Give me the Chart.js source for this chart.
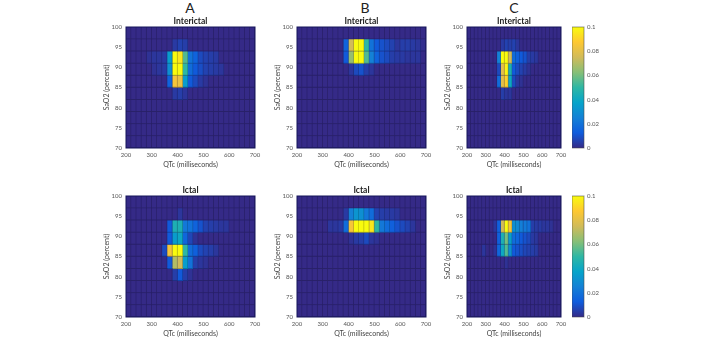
<!DOCTYPE html>
<html>
<head>
<meta charset="utf-8">
<script src="https://cdn.jsdelivr.net/npm/chart.js@4/dist/chart.umd.min.js"></script>
<style>
  html, body { margin: 0; padding: 0; background: #fff; }
  body { position: relative; width: 715px; height: 350px; overflow: hidden; font-family: Lato, sans-serif; }
  canvas { position: absolute; }
  .letter { position: absolute; top: 0; font-size: 14px; line-height: 16px; color: #222; transform: translateX(-50%); }
</style>
</head>
<body>
<div class="letter" style="left:190px">A</div>
<div class="letter" style="left:365px">B</div>
<div class="letter" style="left:514px">C</div>
<script>
// Bin centres of the QTc axis (20 ms bins) and SaO2 bins (3 percent), top row first
const qtcBins = [210,230,250,270,290,310,330,350,370,390,410,430,450,470,490,510,530,550,570,590,610,630,650,670,690];
const sao2Bins = [[97,100],[94,97],[91,94],[88,91],[85,88],[82,85],[79,82],[76,79],[73,76],[70,73]];
const xTicksStep = 100;
const yTicksStep = 5;
const colorbarRange = [0, 0.1];

const emptyRow = [0,0,0,0,0,0,0,0,0,0,0,0,0,0,0,0,0,0,0,0,0,0,0,0,0];

const interictalA = [
  emptyRow,
  [0,0,0,0,0,0,0,0,0,.004,.006,.005,0,0,0,0,0,0,0,0,0,0,0,0,0],
  [0,0,0,0,.002,.003,.003,.004,.035,.1,.095,.055,.02,.015,.008,.006,.005,.004,0,0,0,0,0,0,0],
  [0,0,0,0,0,.002,.003,.004,.03,.1,.1,.05,.018,.012,.009,.006,.005,.004,.003,0,0,0,0,0,0],
  [0,0,0,0,0,0,0,0,.015,.085,.082,.035,.012,.008,.004,.002,0,0,0,0,0,0,0,0,0],
  [0,0,0,0,0,0,0,0,0,.004,.005,.003,0,0,0,0,0,0,0,0,0,0,0,0,0],
  emptyRow, emptyRow, emptyRow, emptyRow
];
const interictalB = [
  emptyRow,
  [0,0,0,0,0,0,0,0,0,.015,.075,.1,.1,.05,.02,.012,.01,.008,.006,.003,.005,.005,.004,.003,.001],
  [0,0,0,0,0,0,0,0,0,.012,.065,.1,.1,.055,.025,.015,.01,.008,.005,.004,.004,.003,.003,.003,0],
  [0,0,0,0,0,0,0,0,0,0,.003,.008,.01,.005,.003,0,0,0,0,0,0,0,0,0,0],
  emptyRow, emptyRow, emptyRow, emptyRow, emptyRow, emptyRow
];
const interictalC = [
  emptyRow,
  [0,0,0,0,0,0,0,0,0,.004,.006,.005,.006,.003,0,0,0,0,0,0,0,0,0,0,0],
  [0,0,0,0,0,0,0,0,.025,.1,.1,.075,.018,.014,.012,.01,.005,.004,.003,0,0,0,0,0,0],
  [0,0,0,0,0,0,0,0,.008,.08,.098,.045,.012,.008,.006,.004,.002,0,0,0,0,0,0,0,0],
  [0,0,0,0,0,0,0,0,.018,.08,.09,.04,.008,.003,.002,0,0,0,0,0,0,0,0,0,0],
  [0,0,0,0,0,0,0,0,0,.005,.003,.003,0,0,0,0,0,0,0,0,0,0,0,0,0],
  emptyRow, emptyRow, emptyRow, emptyRow
];
const ictalA = [
  emptyRow,
  [0,0,0,0,0,0,0,0,0,0,.003,0,0,0,0,0,0,0,0,0,0,0,0,0,0],
  [0,0,0,0,0,0,0,0,.012,.045,.045,.022,.02,.015,.01,.006,.005,.004,.003,.003,0,0,0,0,0],
  [0,0,0,0,0,0,0,0,.012,.035,.04,.016,.007,.002,0,0,0,0,0,0,0,0,0,0,0],
  [0,0,0,0,0,0,0,.008,.085,.1,.1,.05,.018,.014,.008,.006,.005,.003,0,0,0,0,0,0,0],
  [0,0,0,0,0,0,0,0,.012,.07,.075,.035,.02,.005,.003,.002,0,0,0,0,0,0,0,0,0],
  [0,0,0,0,0,0,0,0,0,.005,.012,.005,.002,0,0,0,0,0,0,0,0,0,0,0,0],
  emptyRow, emptyRow, emptyRow
];
const ictalB = [
  emptyRow,
  [0,0,0,0,0,0,0,0,0,.004,.025,.032,.03,.022,.018,.006,.005,.004,.004,.003,0,0,0,0,0],
  [0,0,0,0,0,0,.003,.003,.004,.018,.085,.1,.1,.1,.095,.05,.022,.018,.014,.01,.008,.006,.003,0,0],
  [0,0,0,0,0,0,0,0,0,0,.002,.004,.005,.008,.003,.002,0,0,0,0,0,0,0,0,0],
  emptyRow, emptyRow, emptyRow, emptyRow, emptyRow, emptyRow
];
const ictalC = [
  emptyRow,
  emptyRow,
  [0,0,0,0,0,0,0,.003,.014,.075,.1,.085,.03,.028,.024,.022,.02,.005,.004,.004,.003,.003,.002,0,0],
  [0,0,0,0,0,0,0,0,.014,.045,.06,.035,.018,.016,.012,.01,.008,.004,.003,0,0,0,0,0,0],
  [0,0,0,0,.003,0,0,.002,.016,.04,.055,.03,.012,.01,.009,.007,.006,.005,.004,0,0,0,0,0,0],
  [0,0,0,0,0,0,0,0,0,0,.002,0,0,0,0,0,0,0,0,0,0,0,0,0,0],
  emptyRow, emptyRow, emptyRow, emptyRow
];

// Parula colour stops, sampled off the colour bar
const parula = [[53,42,135],[15,92,221],[20,129,214],[6,164,202],[46,183,164],[135,191,119],[209,187,89],[254,200,50],[249,251,14]];

function rgbFor(value) {
  const t = Math.min(value / colorbarRange[1], 1) * (parula.length - 1);
  const i = Math.min(Math.floor(t), parula.length - 2);
  const f = t - i;
  return parula[i].map((v, k) => Math.round(v + (parula[i + 1][k] - v) * f));
}
const colorFor = value => `rgb(${rgbFor(value).join(',')})`;
// cell edge: same hue, a bit darker
const edgeFor = value => `rgb(${rgbFor(value).map(v => Math.round(v * 0.78)).join(',')})`;

const tickFont = { family: 'Lato', size: 6 };
const labelFont = { family: 'Lato', size: 7, lineHeight: 1.2 };
const tickColor = '#555';
const labelColor = '#444';

// Dark outline round the plot box, and a dark backing so no white shows between cells
function frame(color, backing) {
  return {
    id: 'frame',
    beforeDatasetsDraw(chart) {
      if (!backing) return;
      const { ctx, chartArea: a } = chart;
      ctx.save();
      ctx.fillStyle = backing;
      ctx.fillRect(a.left, a.top, a.right - a.left, a.bottom - a.top);
      ctx.restore();
    },
    afterDatasetsDraw(chart) {
      const { ctx, chartArea: a } = chart;
      ctx.save();
      ctx.strokeStyle = color;
      ctx.lineWidth = 1;
      ctx.strokeRect(a.left, a.top, a.right - a.left, a.bottom - a.top);
      ctx.restore();
    }
  };
}

function addCanvas(left, top, width, height) {
  const canvas = document.createElement('canvas');
  canvas.style.left = left + 'px';
  canvas.style.top = top + 'px';
  canvas.style.width = width + 'px';
  canvas.style.height = height + 'px';
  canvas.width = width;
  canvas.height = height;
  document.body.appendChild(canvas);
  return canvas;
}

function heatmap(rows, title, box) {
  const yAxisWidth = 31;
  const xAxisHeight = 24;
  const rightPad = 10;
  const canvas = addCanvas(box.left - yAxisWidth, box.top, box.width + yAxisWidth + rightPad, box.titleH + box.height + xAxisHeight);

  const datasets = sao2Bins.map((bin, r) => ({
    data: qtcBins.map(x => ({ x: x, y: bin })),
    backgroundColor: rows[r].map(colorFor),
    borderColor: rows[r].map(edgeFor),
    borderWidth: { top: 0, left: 0, right: 1, bottom: 1 },
    borderSkipped: false,
    barPercentage: 1,
    categoryPercentage: 1,
    grouped: false
  }));

  new Chart(canvas, {
    type: 'bar',
    data: { datasets: datasets },
    plugins: [frame('#14145a', 'rgb(40,32,110)')],
    options: {
      responsive: false,
      animation: false,
      layout: { padding: { right: rightPad } },
      plugins: {
        legend: { display: false },
        tooltip: { enabled: false },
        title: {
          display: true,
          text: title,
          fullSize: false,
          color: '#222',
          font: { family: 'Lato', size: 8.5, weight: 'bold', lineHeight: 1 },
          padding: { top: box.titleH - 9.5, bottom: 1 }
        }
      },
      scales: {
        x: {
          type: 'linear',
          min: 200,
          max: 700,
          offset: false,
          grid: { display: false, offset: false, drawTicks: false, tickLength: 0 },
          border: { display: false },
          ticks: { stepSize: xTicksStep, font: tickFont, color: tickColor, padding: 3, maxRotation: 0 },
          title: { display: true, text: 'QTc (milliseconds)', font: labelFont, color: labelColor, padding: { top: 2, bottom: 3.5 } },
          afterFit: s => { s.height = xAxisHeight; }
        },
        y: {
          min: 70,
          max: 100,
          grid: { display: false, drawTicks: false, tickLength: 0 },
          border: { display: false },
          ticks: { stepSize: yTicksStep, font: tickFont, color: tickColor, padding: 4 },
          title: { display: true, text: 'SaO2 (percent)', font: labelFont, color: labelColor, padding: { top: 8, bottom: 2 } },
          afterFit: s => { s.width = yAxisWidth; }
        }
      }
    }
  });
}

function colorbar(box) {
  const tickSpace = 24;
  const canvas = addCanvas(box.left, box.top, box.width + tickSpace, box.titleH + box.height + 10);
  new Chart(canvas, {
    type: 'bar',
    data: {
      labels: [''],
      datasets: [{
        data: [colorbarRange],
        barPercentage: 1,
        categoryPercentage: 1,
        backgroundColor(ctx) {
          const a = ctx.chart.chartArea;
          if (!a) return 'rgb(53,42,135)';
          const g = ctx.chart.ctx.createLinearGradient(0, a.bottom, 0, a.top);
          parula.forEach((c, i) => g.addColorStop(i / (parula.length - 1), `rgb(${c.join(',')})`));
          return g;
        }
      }]
    },
    plugins: [frame('rgba(70,70,70,0.55)')],
    options: {
      responsive: false,
      animation: false,
      layout: { padding: { top: box.titleH, bottom: 10 } },
      plugins: { legend: { display: false }, tooltip: { enabled: false } },
      scales: {
        x: { display: false },
        y: {
          position: 'right',
          min: colorbarRange[0],
          max: colorbarRange[1],
          grid: { display: false, drawTicks: false, tickLength: 0 },
          border: { display: false },
          ticks: { stepSize: 0.02, font: tickFont, color: tickColor, padding: 3, callback: v => String(+v.toFixed(2)) },
          afterFit: s => { s.width = tickSpace; }
        }
      }
    }
  });
}

// Plot boxes: left, top of canvas, title space, plot size
heatmap(interictalA, 'Interictal', { left: 126, top: 0, titleH: 27, width: 129, height: 121 });
heatmap(interictalB, 'Interictal', { left: 297, top: 0, titleH: 27, width: 129, height: 121 });
heatmap(interictalC, 'Interictal', { left: 467, top: 0, titleH: 27, width: 94, height: 121 });
heatmap(ictalA, 'Ictal', { left: 126, top: 170, titleH: 26, width: 129, height: 121 });
heatmap(ictalB, 'Ictal', { left: 297, top: 170, titleH: 26, width: 129, height: 121 });
heatmap(ictalC, 'Ictal', { left: 467, top: 170, titleH: 26, width: 94, height: 121 });
colorbar({ left: 572, top: 0, titleH: 27, width: 12, height: 121 });
colorbar({ left: 572, top: 170, titleH: 26, width: 12, height: 121 });
</script>
</body>
</html>
